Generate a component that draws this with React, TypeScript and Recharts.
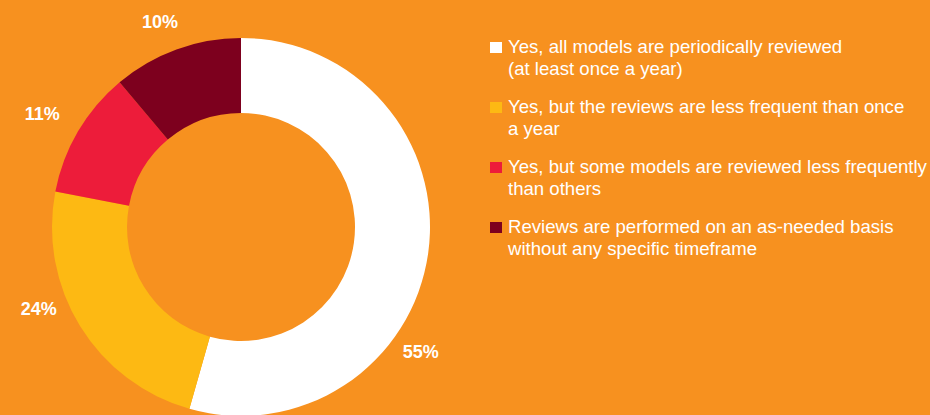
import { PieChart, Pie, Cell, Legend } from 'recharts'

const categories = [
  'Yes, all models are periodically reviewed\n(at least once a year)',
  'Yes, but the reviews are less frequent than once\na year',
  'Yes, but some models are reviewed less frequently\nthan others',
  'Reviews are performed on an as-needed basis\nwithout any specific timeframe',
]
// slice sizes as drawn in the source; the printed labels are rounded differently
const shares = [54.4, 23.6, 10.9, 11.1]
const shareLabels = ['55%', '24%', '11%', '10%']
const colors = ['#FFFFFF', '#FDB913', '#ED1C3A', '#7D001E']

const data = categories.map((name, i) => ({ name, value: shares[i], label: shareLabels[i] }))

const BG = '#F7911F'
const FONT = '"Liberation Sans", Arial, Helvetica, sans-serif'

// labels sit outside the ring, nudged off the slice mid-angle like the print layout
const nudge = [
  { a: -26.9, r: 30 },
  { a: -9.5, r: 29.5 },
  { a: 0.9, r: 39.5 },
  { a: 1.6, r: 31.5 },
]

const RAD = Math.PI / 180

function renderLabel(props: any) {
  const { cx, cy, midAngle, outerRadius, index } = props
  const n = nudge[index] ?? { a: 0, r: 30 }
  const ang = (midAngle + n.a) * RAD
  const r = outerRadius + n.r
  const x = cx + r * Math.cos(-ang)
  const y = cy + r * Math.sin(-ang)
  return (
    <text
      x={x}
      y={y}
      fill="#FFFFFF"
      textAnchor="middle"
      dominantBaseline="central"
      style={{ fontFamily: FONT, fontWeight: 700, fontSize: 18 }}
    >
      {data[index].label}
    </text>
  )
}

function LegendList() {
  return (
    <div style={{ fontFamily: FONT, fontSize: 18.6, lineHeight: '22px', color: '#FFFFFF' }}>
      {categories.map((c, i) => (
        <div key={i} style={{ position: 'relative', paddingLeft: 18, marginBottom: 16, whiteSpace: 'pre-line' }}>
          <span
            style={{
              position: 'absolute', left: 0, top: 6, width: 12, height: 11,
              background: colors[i],
            }}
          />
          {c}
        </div>
      ))}
    </div>
  )
}

export default function App() {
  return (
    <div style={{ position: 'fixed', left: 0, top: 0, width: 930, height: 415, background: BG, overflow: 'hidden' }}>
      <PieChart width={930} height={415} margin={{ top: 0, right: 0, bottom: 0, left: 0 }}>
        <Pie
          data={data}
          dataKey="value"
          nameKey="name"
          cx={241}
          cy={227}
          innerRadius={114}
          outerRadius={189}
          startAngle={90}
          endAngle={-270}
          stroke="none"
          label={renderLabel}
          labelLine={false}
          isAnimationActive={false}
        >
          {data.map((d, i) => (
            <Cell key={d.name} fill={colors[i]} />
          ))}
        </Pie>
        <Legend
          layout="vertical"
          content={<LegendList />}
          wrapperStyle={{ position: 'absolute', left: 490, top: 36, width: 440 }}
        />
      </PieChart>
    </div>
  )
}
